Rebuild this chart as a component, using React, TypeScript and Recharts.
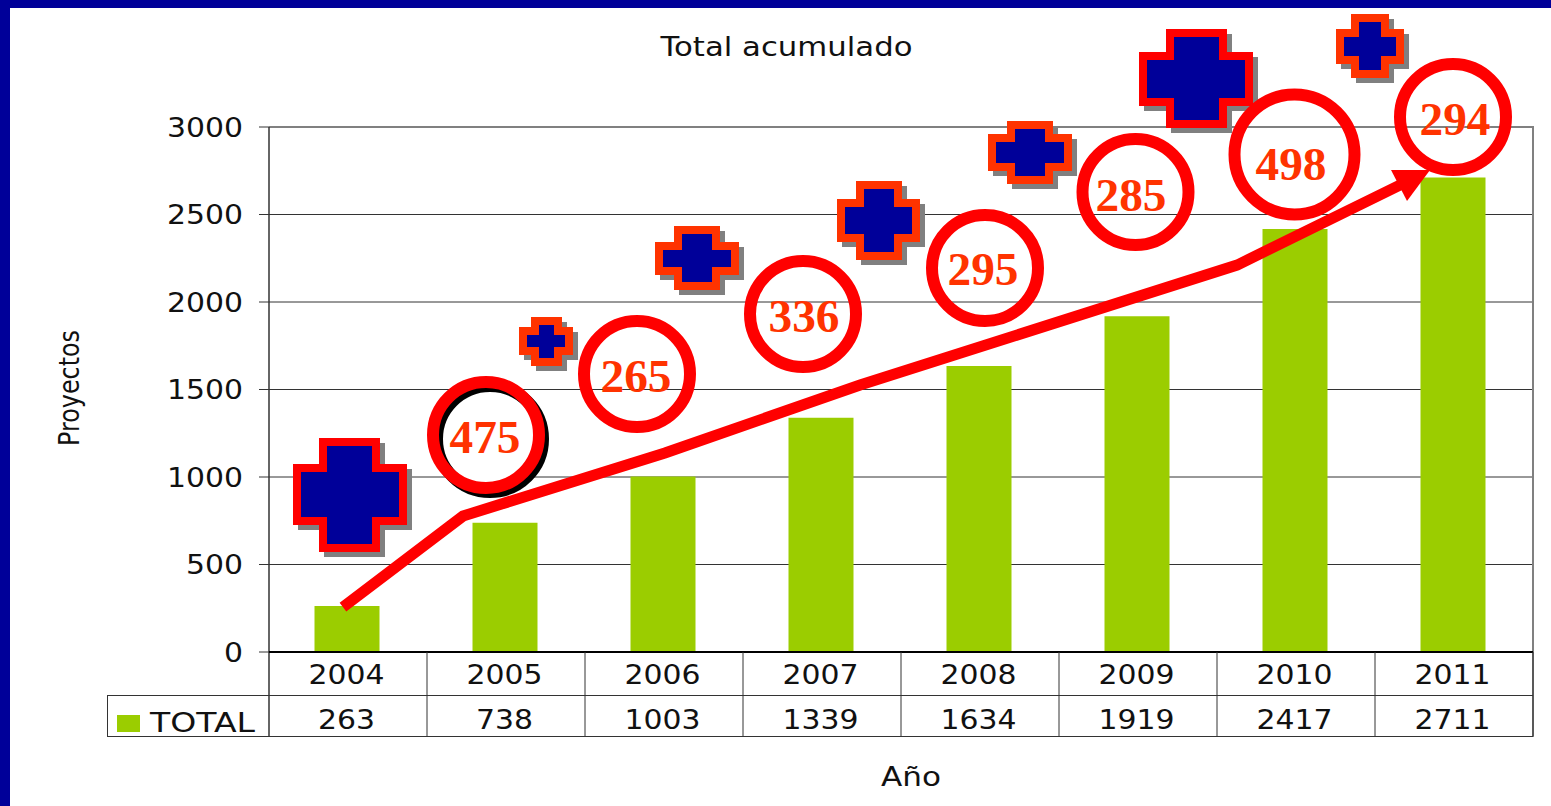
import React from "react"
import { Bar, CartesianGrid, ComposedChart, Line, XAxis, YAxis } from "recharts"

const years = ["2004", "2005", "2006", "2007", "2008", "2009", "2010", "2011"]
const totals = [263, 738, 1003, 1339, 1634, 1919, 2417, 2711]
const yTicks = [0, 500, 1000, 1500, 2000, 2500, 3000]

// hand drawn trend arrow: x in category widths, y in projects
const arrowX = [0.468, 1.228, 2.506, 3.741, 6.127, 7.209]
const arrowY = [257, 777, 1137, 1526, 2211, 2691]

const NAVY = "#000099"
const RED = "#FF0000"
const ORANGE = "#FF3300"
const GREEN = "#9BCD00"
const LINE = "#333333"
const SANS = "'DejaVu Sans', sans-serif"

const chartData = years.map((year, i) => ({ year, total: totals[i] }))
const arrowData = arrowX.map((x, i) => ({ x, y: arrowY[i] }))

// slide annotations sitting over the chart
const crosses = [
    { x0: 293, x1: 407, y0: 438, y1: 552, ax0: 319, ax1: 380, ay0: 464, ay1: 525, color: RED },
    { x0: 519, x1: 573, y0: 317, y1: 366, ax0: 531, ax1: 562, ay0: 327, ay1: 355, color: ORANGE },
    { x0: 655, x1: 739, y0: 226, y1: 290, ax0: 674, ax1: 720, ay0: 242, ay1: 275, color: ORANGE },
    { x0: 837, x1: 920, y0: 181, y1: 260, ax0: 856, ax1: 902, ay0: 199, ay1: 242, color: ORANGE },
    { x0: 988, x1: 1072, y0: 121, y1: 184, ax0: 1007, ax1: 1053, ay0: 134, ay1: 171, color: ORANGE },
    { x0: 1139, x1: 1253, y0: 29, y1: 128, ax0: 1166, ax1: 1227, ay0: 52, ay1: 106, color: RED },
    { x0: 1336, x1: 1404, y0: 14, y1: 78, ax0: 1351, ax1: 1389, ay0: 29, ay1: 64, color: ORANGE },
]

const circles = [
    { cx: 486, cy: 435, r: 53, label: "475", tx: 485, ty: 453, shadow: true },
    { cx: 637, cy: 374, r: 53, label: "265", tx: 636, ty: 392 },
    { cx: 803, cy: 314, r: 53, label: "336", tx: 804, ty: 332 },
    { cx: 985, cy: 268, r: 53, label: "295", tx: 983, ty: 285 },
    { cx: 1135.5, cy: 192, r: 53, label: "285", tx: 1131, ty: 211 },
    { cx: 1294.5, cy: 154.5, r: 60, label: "498", tx: 1291, ty: 180 },
    { cx: 1453, cy: 117, r: 53, label: "294", tx: 1455, ty: 135 },
]

const crossPoints = (c: any, inset: number, dx = 0, dy = 0) => {
    const x0 = c.x0 + inset + dx
    const x1 = c.x1 - inset + dx
    const y0 = c.y0 + inset + dy
    const y1 = c.y1 - inset + dy
    const ax0 = c.ax0 + inset + dx
    const ax1 = c.ax1 - inset + dx
    const ay0 = c.ay0 + inset + dy
    const ay1 = c.ay1 - inset + dy
    return [
        [ax0, y0], [ax1, y0], [ax1, ay0], [x1, ay0], [x1, ay1], [ax1, ay1],
        [ax1, y1], [ax0, y1], [ax0, ay1], [x0, ay1], [x0, ay0], [ax0, ay0],
    ].map((p) => p.join(",")).join(" ")
}

const Stretched = ({ x, y, width, anchor = "middle", size = 26, family = SANS, children }: any) => (
    <text
        x={x}
        y={y}
        fill="#111"
        fontFamily={family}
        fontSize={size}
        textAnchor={anchor}
        textLength={width}
        lengthAdjust="spacingAndGlyphs"
    >
        {children}
    </text>
)

const YTick = ({ x, y, payload }: any) => (
    <Stretched x={x} y={y + 9.5} anchor="end" width={String(payload.value).length * 19}>
        {payload.value}
    </Stretched>
)

// year and total rows of the data table under the plot
const TableTick = ({ x, y, payload }: any) => {
    const total = totals[years.indexOf(payload.value)]
    return (
        <g>
            <line x1={x + 80.5} x2={x + 80.5} y1={652} y2={736} stroke={LINE} />
            <Stretched x={x} y={y + 26} width={76}>{payload.value}</Stretched>
            <Stretched x={x} y={y + 71} width={String(total).length * 19}>{total}</Stretched>
        </g>
    )
}

const ArrowDot = ({ cx, cy, index }: any) => {
    if (index !== arrowData.length - 1) return <g key={index} />
    return (
        <polygon
            key={index}
            points={`${cx + 22},${cy - 11} ${cx - 17},${cy - 11} ${cx - 1},${cy + 20}`}
            fill={RED}
        />
    )
}

const Frame = () => (
    <g>
        <rect x={0} y={0} width={1551} height={8} fill={NAVY} />
        <rect x={0} y={0} width={10} height={806} fill={NAVY} />
        <line x1={269} x2={1534} y1={127} y2={127} stroke="#808080" strokeWidth={2} />
        <line x1={1533} x2={1533} y1={127} y2={737} stroke="#808080" strokeWidth={2} />
        <line x1={269} x2={269} y1={127} y2={736} stroke={LINE} strokeWidth={1.5} />
        <line x1={107} x2={1533} y1={695.5} y2={695.5} stroke={LINE} />
        <line x1={107} x2={1533} y1={736.5} y2={736.5} stroke={LINE} />
        <line x1={107.5} x2={107.5} y1={695} y2={737} stroke={LINE} />
        <rect x={117} y={715} width={23} height={17} fill={GREEN} />
        <Stretched x={150} y={732} anchor="start" width={105}>TOTAL</Stretched>
        <Stretched x={786.5} y={56} width={252}>Total acumulado</Stretched>
        <Stretched x={911} y={786} width={60}>Año</Stretched>
        <g transform="translate(79 388) rotate(-90)">
            <Stretched x={0} y={0} width={116} size={28}>Proyectos</Stretched>
        </g>
    </g>
)

const Annotations = () => (
    <g>
        {crosses.map((c, i) => (
            <g key={i}>
                <polygon points={crossPoints(c, 0, 5, 5)} fill="#808080" />
                <polygon points={crossPoints(c, 0)} fill={c.color} />
                <polygon points={crossPoints(c, 8)} fill={NAVY} />
            </g>
        ))}
        {circles.map((c) => (
            <g key={c.label}>
                {c.shadow && <circle cx={c.cx + 4} cy={c.cy + 4} r={c.r} fill="#fff" stroke="#000" strokeWidth={12} />}
                <circle cx={c.cx} cy={c.cy} r={c.r} fill="none" stroke={RED} strokeWidth={12} />
                <text
                    x={c.tx}
                    y={c.ty}
                    fill={ORANGE}
                    fontFamily="'Liberation Serif', serif"
                    fontWeight="bold"
                    fontSize={47}
                    textAnchor="middle"
                    textLength={71}
                    lengthAdjust="spacingAndGlyphs"
                >
                    {c.label}
                </text>
            </g>
        ))}
    </g>
)

export default function App() {
    return (
        <div style={{ position: "absolute", left: 0, top: 0, width: 1551, height: 806, background: "#fff", overflow: "hidden" }}>
            <ComposedChart
                width={1551}
                height={806}
                data={chartData}
                margin={{ top: 127, right: 18, bottom: 60, left: 209 }}
            >
                <CartesianGrid vertical={false} stroke={LINE} />
                <XAxis
                    dataKey="year"
                    height={94}
                    interval={0}
                    padding={{ left: -1.5, right: 1.5 }}
                    axisLine={{ stroke: "#000", strokeWidth: 2 }}
                    tickLine={false}
                    tickMargin={0}
                    tick={<TableTick />}
                />
                <XAxis xAxisId="arrow" type="number" dataKey="x" domain={[0, 8]} hide />
                <YAxis
                    width={60}
                    domain={[0, 3000]}
                    ticks={yTicks}
                    interval={0}
                    axisLine={false}
                    tickLine={{ stroke: LINE }}
                    tickSize={10}
                    tickMargin={16}
                    tick={<YTick />}
                />
                <Frame />
                <Bar dataKey="total" fill={GREEN} barSize={65} isAnimationActive={false} />
                <Annotations />
                <Line
                    data={arrowData}
                    xAxisId="arrow"
                    dataKey="y"
                    stroke={RED}
                    strokeWidth={11}
                    dot={<ArrowDot />}
                    activeDot={false}
                    legendType="none"
                    isAnimationActive={false}
                />
            </ComposedChart>
        </div>
    )
}
